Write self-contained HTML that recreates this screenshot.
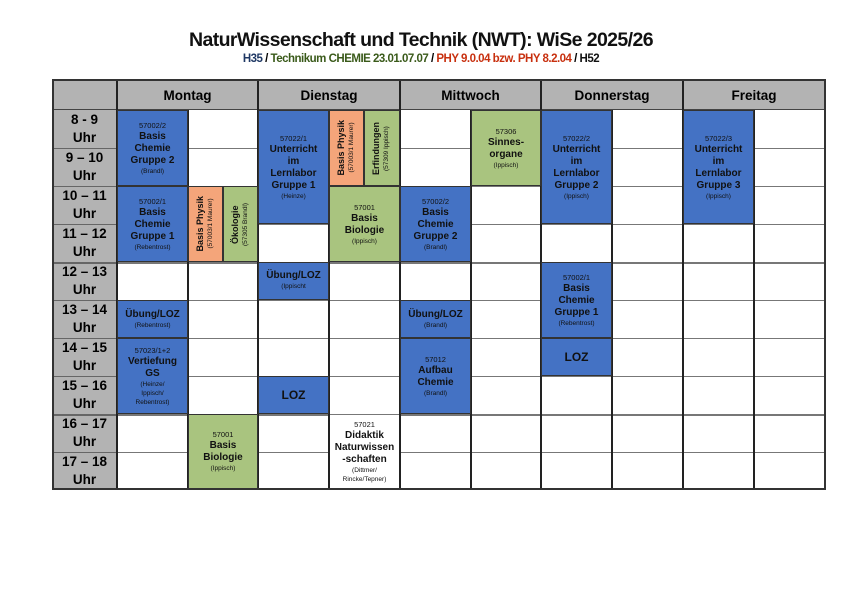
<!DOCTYPE html>
<html><head><meta charset="utf-8"><style>
body{margin:0;width:842px;height:595px;background:#fff;position:relative;overflow:hidden;font-family:"Liberation Sans",Arial,sans-serif}
.a{position:absolute;box-sizing:border-box}
.t1{left:0;width:842px;top:29px;text-align:center;font-size:19.5px;font-weight:bold;letter-spacing:-0.6px;color:#111}
.t2{left:0;width:842px;top:53px;text-align:center;font-size:11.5px;font-weight:bold;letter-spacing:-0.5px}
.h{background:#b3b3b3;top:80px;height:30px;display:flex;align-items:center;justify-content:center;font-weight:bold;font-size:13.5px}
.tm{background:#b3b3b3;left:52px;width:65px;height:38px;display:flex;flex-direction:column;align-items:center;justify-content:center;font-weight:bold;font-size:13.5px;line-height:18px}
.vl{width:2px;background:#222;top:80px;height:409px}
.hl{left:117px;width:708px;height:1px;background:#777}
.b{display:flex;flex-direction:column;align-items:center;justify-content:center;text-align:center;border:1px solid #333;font-size:10px;font-weight:bold;line-height:12px;color:#111}
.b small{font-size:6.5px;font-weight:normal;line-height:9px}
.b .n{font-size:7.5px;font-weight:normal;line-height:10px}
.bl{background:#4472c4}.gr{background:#a9c47f}.or{background:#f4a57a}.wh{background:#fff}
.rot{writing-mode:vertical-rl;transform:rotate(180deg);font-size:9px}
</style></head><body>
<div class="a t1">NaturWissenschaft und Technik (NWT): WiSe 2025/26</div>
<div class="a t2"><span style="color:#1f3864">H35</span> / <span style="color:#3a5a1a">Technikum CHEMIE 23.01.07.07</span> / <span style="color:#c8300f">PHY 9.0.04 bzw. PHY 8.2.04</span> / <span style="color:#111">H52</span></div>

<div class="a h" style="left:52px;width:65px"></div>
<div class="a h" style="left:117px;width:141px">Montag</div>
<div class="a h" style="left:258px;width:142px">Dienstag</div>
<div class="a h" style="left:400px;width:141px">Mittwoch</div>
<div class="a h" style="left:541px;width:142px">Donnerstag</div>
<div class="a h" style="left:683px;width:142px">Freitag</div>

<div class="a tm" style="top:110px">8 - 9<span>Uhr</span></div>
<div class="a tm" style="top:148px">9 – 10<span>Uhr</span></div>
<div class="a tm" style="top:186px">10 – 11<span>Uhr</span></div>
<div class="a tm" style="top:224px">11 – 12<span>Uhr</span></div>
<div class="a tm" style="top:262px">12 – 13<span>Uhr</span></div>
<div class="a tm" style="top:300px">13 – 14<span>Uhr</span></div>
<div class="a tm" style="top:338px">14 – 15<span>Uhr</span></div>
<div class="a tm" style="top:376px">15 – 16<span>Uhr</span></div>
<div class="a tm" style="top:414px">16 – 17<span>Uhr</span></div>
<div class="a tm" style="top:452px">17 – 18<span>Uhr</span></div>

<div class="a hl" style="top:148px"></div><div class="a hl" style="top:186px"></div><div class="a hl" style="top:224px"></div>
<div class="a hl" style="top:262px;height:2px"></div><div class="a hl" style="top:300px"></div><div class="a hl" style="top:338px"></div>
<div class="a hl" style="top:376px"></div><div class="a hl" style="top:414px;height:2px"></div><div class="a hl" style="top:452px"></div>
<div class="a" style="left:52px;width:773px;top:109px;height:1px;background:#444"></div>
<div class="a" style="left:52px;width:65px;top:148px;height:1px;background:#666"></div>
<div class="a" style="left:52px;width:65px;top:186px;height:1px;background:#666"></div>
<div class="a" style="left:52px;width:65px;top:224px;height:1px;background:#666"></div>
<div class="a" style="left:52px;width:65px;top:262px;height:2px;background:#666"></div>
<div class="a" style="left:52px;width:65px;top:300px;height:1px;background:#666"></div>
<div class="a" style="left:52px;width:65px;top:338px;height:1px;background:#666"></div>
<div class="a" style="left:52px;width:65px;top:376px;height:1px;background:#666"></div>
<div class="a" style="left:52px;width:65px;top:414px;height:2px;background:#666"></div>
<div class="a" style="left:52px;width:65px;top:452px;height:1px;background:#666"></div>

<div class="a vl" style="left:116px"></div><div class="a vl" style="left:187px;top:110px;height:379px"></div>
<div class="a vl" style="left:257px"></div><div class="a vl" style="left:328px;top:110px;height:379px"></div>
<div class="a vl" style="left:399px"></div><div class="a vl" style="left:470px;top:110px;height:379px"></div>
<div class="a vl" style="left:540px"></div><div class="a vl" style="left:611px;top:110px;height:379px"></div>
<div class="a vl" style="left:682px"></div><div class="a vl" style="left:753px;top:110px;height:379px"></div>
<div class="a" style="left:52px;top:79px;width:774px;height:411px;border:2px solid #333"></div>

<!-- Montag -->
<div class="a b bl" style="left:117px;top:110px;width:71px;height:76px"><span class="n">57002/2</span>Basis<br>Chemie<br>Gruppe 2<small>(Brandl)</small></div>
<div class="a b bl" style="left:117px;top:186px;width:71px;height:76px"><span class="n">57002/1</span>Basis<br>Chemie<br>Gruppe 1<small>(Rebentrost)</small></div>
<div class="a b or" style="left:188px;top:186px;width:35px;height:76px;flex-direction:row"><div class="rot" style="line-height:11px">Basis Physik<br><small>(57003/1 Maurer)</small></div></div>
<div class="a b gr" style="left:223px;top:186px;width:35px;height:76px;flex-direction:row"><div class="rot" style="line-height:11px">Ökologie<br><small>(57305 Brandl)</small></div></div>
<div class="a b bl" style="left:117px;top:300px;width:71px;height:38px">Übung/LOZ<small>(Rebentrost)</small></div>
<div class="a b bl" style="left:117px;top:338px;width:71px;height:76px"><span class="n">57023/1+2</span>Vertiefung<br>GS<small>(Heinze/<br>Ippisch/<br>Rebentrost)</small></div>
<div class="a b gr" style="left:188px;top:414px;width:70px;height:75px"><span class="n">57001</span>Basis<br>Biologie<small>(Ippisch)</small></div>

<!-- Dienstag -->
<div class="a b bl" style="left:258px;top:110px;width:71px;height:114px"><span class="n">57022/1</span>Unterricht<br>im<br>Lernlabor<br>Gruppe 1<small>(Heinze)</small></div>
<div class="a b or" style="left:329px;top:110px;width:35px;height:76px;flex-direction:row"><div class="rot" style="line-height:11px">Basis Physik<br><small>(57003/1 Maurer)</small></div></div>
<div class="a b gr" style="left:364px;top:110px;width:36px;height:76px;flex-direction:row"><div class="rot" style="line-height:11px">Erfindungen<br><small>(57309 Ippisch)</small></div></div>
<div class="a b gr" style="left:329px;top:186px;width:71px;height:76px"><span class="n">57001</span>Basis<br>Biologie<small>(Ippisch)</small></div>
<div class="a b bl" style="left:258px;top:262px;width:71px;height:38px;justify-content:flex-start;padding-top:7px">Übung/LOZ<small>(Ippischt</small></div>
<div class="a b bl" style="left:258px;top:376px;width:71px;height:38px;font-size:12px">LOZ</div>
<div class="a b wh" style="left:330px;top:415px;width:69px;height:73px;border:none"><span class="n">57021</span>Didaktik<br>Naturwissen<br>-schaften<small>(Dittmer/<br>Rincke/Tepner)</small></div>

<!-- Mittwoch -->
<div class="a b gr" style="left:471px;top:110px;width:70px;height:76px"><span class="n">57306</span>Sinnes-<br>organe<small>(Ippisch)</small></div>
<div class="a b bl" style="left:400px;top:186px;width:71px;height:76px"><span class="n">57002/2</span>Basis<br>Chemie<br>Gruppe 2<small>(Brandl)</small></div>
<div class="a b bl" style="left:400px;top:300px;width:71px;height:38px">Übung/LOZ<small>(Brandl)</small></div>
<div class="a b bl" style="left:400px;top:338px;width:71px;height:76px"><span class="n">57012</span>Aufbau<br>Chemie<small>(Brandl)</small></div>

<!-- Donnerstag -->
<div class="a b bl" style="left:541px;top:110px;width:71px;height:114px"><span class="n">57022/2</span>Unterricht<br>im<br>Lernlabor<br>Gruppe 2<small>(Ippisch)</small></div>
<div class="a b bl" style="left:541px;top:262px;width:71px;height:76px"><span class="n">57002/1</span>Basis<br>Chemie<br>Gruppe 1<small>(Rebentrost)</small></div>
<div class="a b bl" style="left:541px;top:338px;width:71px;height:38px;font-size:12px">LOZ</div>

<!-- Freitag -->
<div class="a b bl" style="left:683px;top:110px;width:71px;height:114px"><span class="n">57022/3</span>Unterricht<br>im<br>Lernlabor<br>Gruppe 3<small>(Ippisch)</small></div>
</body></html>
